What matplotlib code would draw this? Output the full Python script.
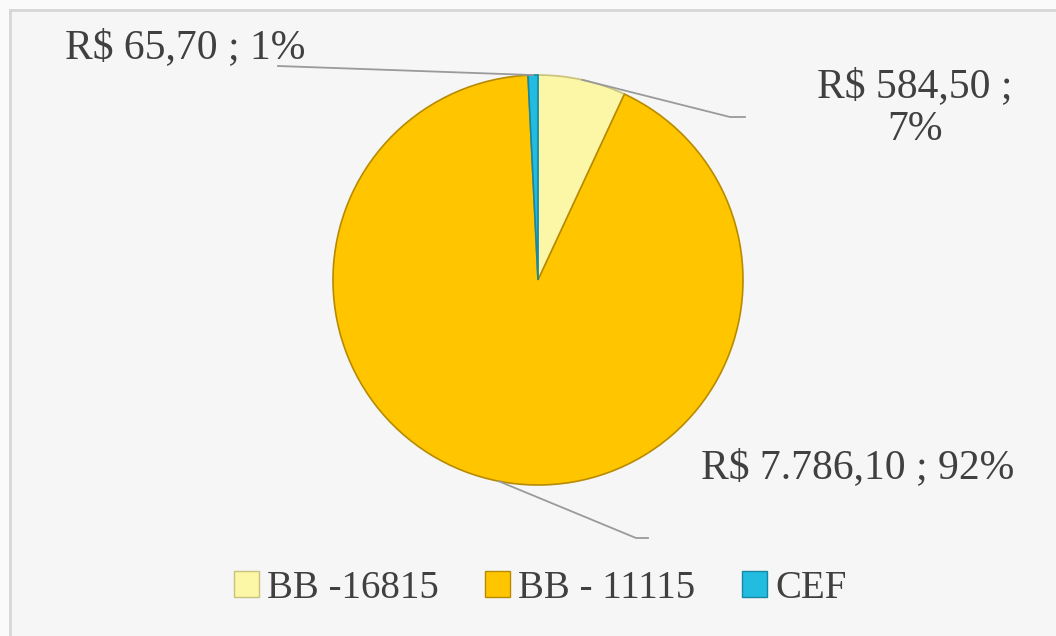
import matplotlib.pyplot as plt
import matplotlib.patches as mpatches
import numpy as np

# data
labels = ['BB -16815', 'BB - 11115', 'CEF']
values = [584.50, 7786.10, 65.70]
value_text = ['R$ 584,50 ;\n7%', 'R$ 7.786,10 ; 92%', 'R$ 65,70 ; 1%']
colors = ['#FBF7A6', '#FFC600', '#22BCE0']
edge_colors = ['#C9C27A', '#B88A00', '#1787A3']

W, H = 1056, 636
fig = plt.figure(figsize=(W / 100, H / 100), dpi=100)
fig.patch.set_facecolor('#FAFAFA')
ax = fig.add_axes([0, 0, 1, 1])

cx, cy, r = 538, H - 280, 205
wedges, _ = ax.pie(values, colors=colors, startangle=90, counterclock=False,
                   center=(cx, cy), radius=r, frame=True,
                   wedgeprops=dict(edgecolor='none', linewidth=0))
for w, ec in zip(wedges, edge_colors):
    w.set_edgecolor(ec)
    w.set_linewidth(1.2)
ax.set_xlim(0, W)
ax.set_ylim(0, H)
ax.set_aspect('equal')
ax.axis('off')

# chart area background, border only visible on top and left
ax.add_patch(mpatches.Rectangle((10, -20), W + 20, H - 10 + 20, facecolor='#F6F6F6',
                                edgecolor='#D6D6D6', linewidth=2, zorder=0))

# label positions (pixel coords from top-left) and leader line elbows
label_pos = [(915, 108), (858, 468), (185, 48)]
elbows = [[(730, 117), (745, 117)], [(636, 538), (648, 538)], [(278, 66)]]

font = 'Liberation Serif'
for w, txt, pos, elb in zip(wedges, value_text, label_pos, elbows):
    a = np.deg2rad((w.theta1 + w.theta2) / 2)
    sx, sy = cx + r * np.cos(a), cy + r * np.sin(a)
    pts = [(sx, sy)] + [(p[0], H - p[1]) for p in elb]
    ax.plot([p[0] for p in pts], [p[1] for p in pts], color='#9A9A9A', lw=1.3, zorder=1)
    ax.text(pos[0], H - pos[1], txt, ha='center', va='center', fontsize=30,
            family=font, color='#404040', linespacing=1.15)

handles = [mpatches.Patch(facecolor=c, edgecolor=e, label=l)
           for c, e, l in zip(colors, edge_colors, labels)]
leg = ax.legend(handles=handles, loc='center', bbox_to_anchor=(540 / W, 1 - 588 / H),
                ncol=3, frameon=False, prop={'family': font, 'size': 28},
                handlelength=0.65, handleheight=0.65, handletextpad=0.2,
                columnspacing=1.2, labelcolor='#404040')

fig.savefig('out.png', dpi=100, facecolor=fig.get_facecolor())
